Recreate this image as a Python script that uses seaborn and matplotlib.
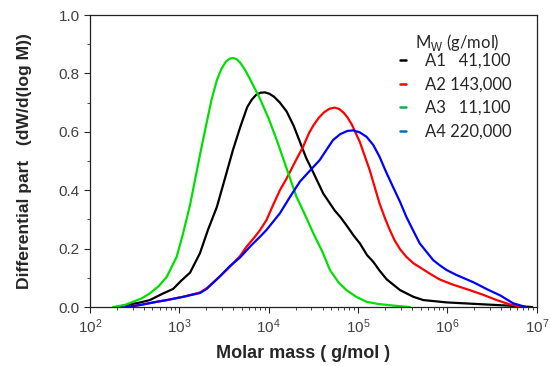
import numpy as np
import pandas as pd
import matplotlib
matplotlib.use("Agg")
import matplotlib.pyplot as plt
import matplotlib.ticker as mticker
from matplotlib.lines import Line2D
import seaborn as sns

# log10 of molar mass (g/mol) and dW/d(log M)
a1_logm = [2.30, 2.41, 2.55, 2.67, 2.82, 2.93, 3.02, 3.12, 3.23, 3.32, 3.42, 3.51, 3.60, 3.68,
           3.72, 3.76, 3.81, 3.86, 3.91, 3.96, 4.01, 4.06, 4.125, 4.20, 4.28, 4.35, 4.42, 4.50,
           4.61, 4.74, 4.80, 4.87, 4.95, 5.02, 5.10, 5.17, 5.24, 5.32, 5.47, 5.62, 5.73, 5.99,
           6.36, 6.55, 6.81, 6.95]
a1_w = [0.0, 0.007, 0.015, 0.024, 0.047, 0.062, 0.09, 0.118, 0.184, 0.264, 0.343, 0.44, 0.538, 0.615,
        0.65, 0.685, 0.71, 0.727, 0.734, 0.735, 0.73, 0.72, 0.70, 0.67, 0.62, 0.565, 0.51, 0.46,
        0.389, 0.33, 0.309, 0.28, 0.245, 0.218, 0.178, 0.155, 0.125, 0.095, 0.058, 0.035, 0.024, 0.016,
        0.010, 0.007, 0.003, 0.0]

a2_logm = [2.40, 2.56, 2.745, 2.86, 3.04, 3.23, 3.305, 3.45, 3.565, 3.68, 3.75, 3.83, 3.90, 3.975,
           4.05, 4.125, 4.20, 4.30, 4.385, 4.45, 4.50, 4.56, 4.62, 4.68, 4.74, 4.79, 4.84, 4.88,
           4.93, 5.02, 5.13, 5.24, 5.30, 5.355, 5.41, 5.47, 5.54, 5.62, 5.80, 5.91, 6.05, 6.25,
           6.40, 6.55, 6.70, 6.81, 6.88]
a2_w = [0.0, 0.007, 0.018, 0.024, 0.035, 0.050, 0.064, 0.104, 0.138, 0.175, 0.206, 0.235, 0.262, 0.298,
        0.35, 0.40, 0.44, 0.50, 0.549, 0.595, 0.622, 0.648, 0.667, 0.679, 0.683, 0.678, 0.665, 0.65,
        0.625, 0.565, 0.469, 0.355, 0.305, 0.264, 0.228, 0.198, 0.172, 0.150, 0.115, 0.095, 0.078, 0.058,
        0.042, 0.024, 0.009, 0.002, 0.0]

a3_logm = [2.26, 2.40, 2.48, 2.58, 2.67, 2.77, 2.86, 2.97, 3.04, 3.12, 3.19, 3.25, 3.305, 3.36,
           3.42, 3.47, 3.52, 3.56, 3.60, 3.64, 3.68, 3.73, 3.80, 3.90, 4.00, 4.09, 4.20, 4.31,
           4.40, 4.50, 4.60, 4.685, 4.78, 4.87, 4.98, 5.095, 5.24, 5.40, 5.58]
a3_w = [0.0, 0.008, 0.018, 0.030, 0.047, 0.072, 0.104, 0.172, 0.25, 0.35, 0.458, 0.55, 0.63, 0.71,
        0.777, 0.815, 0.840, 0.850, 0.853, 0.849, 0.837, 0.815, 0.775, 0.715, 0.645, 0.572, 0.475, 0.378,
        0.32, 0.252, 0.19, 0.127, 0.085, 0.058, 0.035, 0.018, 0.010, 0.005, 0.0]

a4_logm = [2.40, 2.56, 2.745, 2.86, 3.04, 3.23, 3.305, 3.45, 3.565, 3.68, 3.80, 3.90, 3.975, 4.125,
           4.24, 4.35, 4.50, 4.57, 4.65, 4.72, 4.80, 4.88, 4.945, 5.02, 5.095, 5.17, 5.24, 5.31,
           5.39, 5.47, 5.54, 5.62, 5.69, 5.84, 5.91, 5.99, 6.10, 6.29, 6.45, 6.59, 6.735, 6.88]
a4_w = [0.0, 0.007, 0.018, 0.024, 0.035, 0.048, 0.062, 0.104, 0.14, 0.17, 0.21, 0.24, 0.264, 0.321,
        0.378, 0.43, 0.48, 0.503, 0.54, 0.572, 0.592, 0.603, 0.605, 0.598, 0.583, 0.555, 0.515, 0.465,
        0.412, 0.36, 0.309, 0.26, 0.218, 0.161, 0.144, 0.127, 0.11, 0.085, 0.06, 0.040, 0.013, 0.0]

samples = ["A1", "A2", "A3", "A4"]
mw_labels = ["A1   41,100", "A2 143,000", "A3   11,100", "A4 220,000"]
line_colors = ["#000000", "#ff0000", "#00e000", "#0000ff"]
dash_colors = ["#000000", "#ff0000", "#00b050", "#0070c0"]

frames = []
for name, lm, w in zip(samples, [a1_logm, a2_logm, a3_logm, a4_logm], [a1_w, a2_w, a3_w, a4_w]):
    frames.append(pd.DataFrame({"M": 10 ** np.array(lm), "w": w, "sample": name}))
df = pd.concat(frames, ignore_index=True)

sns.set_style("ticks")
plt.rcParams["font.family"] = ["Liberation Sans", "DejaVu Sans"]
plt.rcParams["mathtext.fontset"] = "custom"
plt.rcParams["mathtext.rm"] = "Liberation Sans"

fig = plt.figure(figsize=(5.5, 3.66), dpi=100)
ax = fig.add_axes([0.1636, 0.161, 0.8124, 0.798])

sns.lineplot(data=df, x="M", y="w", hue="sample", palette=line_colors,
             estimator=None, linewidth=1.6, legend=False, ax=ax)

ax.set_xscale("log")
ax.set_xlim(1e2, 1e7)
ax.set_ylim(0, 1.0)
ax.yaxis.set_major_locator(mticker.MultipleLocator(0.2))
ax.yaxis.set_minor_locator(mticker.MultipleLocator(0.1))
ax.yaxis.set_major_formatter(mticker.FormatStrFormatter("%.1f"))
ax.xaxis.set_major_locator(mticker.LogLocator(base=10, numticks=10))
ax.xaxis.set_minor_locator(mticker.LogLocator(base=10, subs=np.arange(2, 10), numticks=20))

ax.tick_params(which="major", direction="out", length=4, width=0.8, labelsize=11, labelcolor="#404040")
ax.tick_params(which="minor", direction="out", length=2.5, width=0.6)
for s in ax.spines.values():
    s.set_linewidth(0.9)
    s.set_color("#222222")

ax.set_xlabel("Molar mass ( g/mol )", fontsize=13, fontweight="bold")
ax.set_ylabel("Differential part   (dW/d(log M))", fontsize=12.6, fontweight="bold")
ax.xaxis.set_label_coords(0.477, -0.13)
ax.yaxis.set_label_coords(-0.13, 0.5)

# legend: title as its own text so the rows sit where the reference has them
ax.text(0.823, 0.905, "M$_\\mathrm{W}$ (g/mol)", transform=ax.transAxes, ha="center", va="center",
        fontsize=12, family="Lato")
handles = [Line2D([], [], color=c, lw=1.8) for c in dash_colors]
ax.legend(handles, mw_labels, loc="upper left", bbox_to_anchor=(0.6935, 0.87), frameon=False,
          borderpad=0, borderaxespad=0, handlelength=0.35, handletextpad=1.15, labelspacing=0.45,
          prop={"family": "Lato", "size": 12})

fig.savefig("out.png", dpi=100)
